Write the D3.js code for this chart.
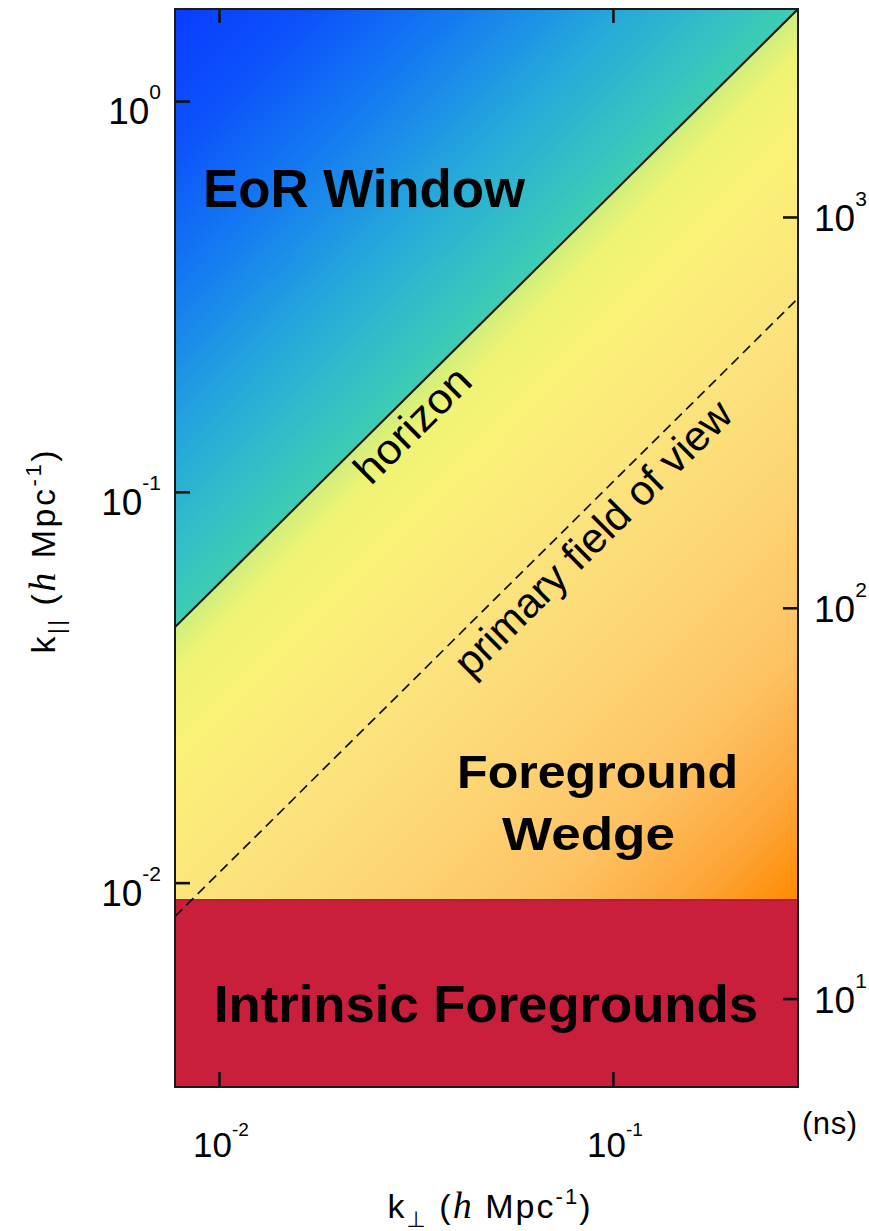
<!DOCTYPE html>
<html>
<head>
<meta charset="utf-8">
<script src="https://cdn.jsdelivr.net/npm/d3@7"></script>
<style>
  body { margin: 0; background: #fff; }
  svg { display: block; }
  text { font-family: "Liberation Sans", Arial, Helvetica, sans-serif; fill: #000; }
</style>
</head>
<body>
<svg id="chart" width="869" height="1231"></svg>
<script>
// ---- data -------------------------------------------------------------
// plotted ranges (h Mpc^-1)
const kPerpRange = [0.00773, 0.295];
const kParRange  = [0.0030, 1.72];
// decade ticks
const kPerpTicks = [0.01, 0.1];
const kParTicks  = [0.01, 0.1, 1];
const delayTicks = [10, 100, 1000];          // ns
// k_par / k_perp along the horizon limit and the primary-beam limit
const horizonSlope = 5.83;
const fovSlope     = 1.06;
// upper edge of the intrinsic (spectrally smooth) foreground band
const intrinsicTop = 0.00905;
// delay (ns) per unit k_par (h Mpc^-1)
const delayPerK = 1980;

// ---- layout -----------------------------------------------------------
const frame = { left: 175, right: 798, top: 9, bottom: 1087 };
const x = d3.scaleLog().domain(kPerpRange).range([frame.left, frame.right]);
const y = d3.scaleLog().domain(kParRange).range([frame.bottom, frame.top]);
const delay = d3.scaleLog()
  .domain(kParRange.map(k => k * delayPerK))
  .range([frame.bottom, frame.top]);

const svg = d3.select("#chart");
const defs = svg.append("defs");

defs.append("clipPath").attr("id", "plotClip")
  .append("rect")
  .attr("x", frame.left).attr("y", frame.top)
  .attr("width", frame.right - frame.left)
  .attr("height", frame.bottom - frame.top);

// horizon and field-of-view lines in pixel space
const horizonPts = kPerpRange.map(k => [x(k), y(k * horizonSlope)]);
const fovPts     = kPerpRange.map(k => [x(k), y(k * fovSlope)]);

const [p0, p1] = horizonPts;
const ux = p1[0] - p0[0], uy = p1[1] - p0[1], ul = Math.hypot(ux, uy);
const nx = -uy / ul, ny = ux / ul;               // unit normal pointing into the wedge
const dist = (px, py) => (px - p0[0]) * nx + (py - p0[1]) * ny;
const dCool = dist(frame.left, frame.top);        // far corner of the EoR window
const dWarm = dist(frame.right, y(intrinsicTop)); // far corner of the wedge

// colour ramps run perpendicular to the horizon
const coolStops = [
  [0.00, "#0a3cff"], [0.22, "#0c52fb"], [0.45, "#1479f2"],
  [0.70, "#24a6dc"], [0.88, "#33bfc6"], [1.00, "#3ecdb2"]
];
const warmStops = [
  [0.00, "#cfee7c"], [0.05, "#eef374"], [0.14, "#faf277"],
  [0.35, "#fce27c"], [0.55, "#fdd272"], [0.72, "#fdc262"],
  [0.87, "#fda73a"], [1.00, "#ff8a00"]
];

function addGradient(id, from, to, stops) {
  const g = defs.append("linearGradient").attr("id", id)
    .attr("gradientUnits", "userSpaceOnUse")
    .attr("x1", from[0]).attr("y1", from[1])
    .attr("x2", to[0]).attr("y2", to[1]);
  g.selectAll("stop").data(stops).join("stop")
    .attr("offset", d => d[0]).attr("stop-color", d => d[1]);
}
addGradient("coolRamp", [p0[0] + dCool * nx, p0[1] + dCool * ny], p0, coolStops);
addGradient("warmRamp", p0, [p0[0] + dWarm * nx, p0[1] + dWarm * ny], warmStops);

const plot = svg.append("g").attr("clip-path", "url(#plotClip)");

// foreground wedge (everything below the horizon)
plot.append("rect")
  .attr("x", frame.left).attr("y", frame.top)
  .attr("width", frame.right - frame.left)
  .attr("height", frame.bottom - frame.top)
  .attr("fill", "url(#warmRamp)");

// EoR window (above the horizon)
const windowPoly = [...horizonPts, [frame.right, frame.top], [frame.left, frame.top]];
plot.append("path")
  .attr("d", "M" + windowPoly.join("L") + "Z")
  .attr("fill", "url(#coolRamp)");

// intrinsic foreground band
const yBand = y(intrinsicTop);
plot.append("rect")
  .attr("x", frame.left).attr("y", yBand)
  .attr("width", frame.right - frame.left)
  .attr("height", frame.bottom - yBand)
  .attr("fill", "#c91f3d");
plot.append("line")
  .attr("x1", frame.left).attr("x2", frame.right)
  .attr("y1", yBand).attr("y2", yBand)
  .attr("stroke", "#5a1a14").attr("stroke-width", 1.2).attr("stroke-opacity", 0.7);

const line = d3.line();
plot.append("path").attr("d", line(fovPts))
  .attr("fill", "none").attr("stroke", "#111").attr("stroke-width", 1.7)
  .attr("stroke-dasharray", "10,6");
plot.append("path").attr("d", line(horizonPts))
  .attr("fill", "none").attr("stroke", "#111").attr("stroke-width", 2);

// ---- line labels ------------------------------------------------------
function lineLabel(text, slope, kPerp, offset, size, len) {
  const a = [x(kPerpRange[0]), y(kPerpRange[0] * slope)];
  const b = [x(kPerpRange[1]), y(kPerpRange[1] * slope)];
  const ang = Math.atan2(b[1] - a[1], b[0] - a[0]) * 180 / Math.PI;
  const px = x(kPerp), py = y(kPerp * slope);
  svg.append("text")
    .attr("transform", `translate(${px},${py}) rotate(${ang}) translate(0,${offset})`)
    .attr("text-anchor", "middle")
    .attr("font-size", size)
    .attr("textLength", len).attr("lengthAdjust", "spacingAndGlyphs")
    .text(text);
}
lineLabel("horizon", horizonSlope, 0.0281, 38, 42, 146);
lineLabel("primary field of view", fovSlope, 0.080, 40, 42, 372);

// ---- region labels ----------------------------------------------------
function regionLabel(text, kp, kq, anchor, size, len) {
  svg.append("text")
    .attr("x", x(kp)).attr("y", y(kq))
    .attr("text-anchor", anchor)
    .attr("font-size", size).attr("font-weight", "bold")
    .attr("textLength", len).attr("lengthAdjust", "spacingAndGlyphs")
    .text(text);
}
regionLabel("EoR Window", 0.00911, 0.536, "start", 53, 322);
regionLabel("Foreground", 0.0914, 0.0175, "middle", 46, 281);
regionLabel("Wedge", 0.0867, 0.01215, "middle", 46, 173);
regionLabel("Intrinsic Foregrounds", 0.0476, 0.00441, "middle", 52, 544);

// ---- axes (inward ticks, no labels from the generator) ---------------
function styleTicks(g) {
  g.select(".domain").remove();
  g.selectAll(".tick line").attr("stroke", "#111").attr("stroke-width", 2.6);
}
svg.append("g").attr("transform", `translate(${frame.left},0)`)
  .call(d3.axisLeft(y).tickValues(kParTicks).tickSize(-15).tickFormat(""))
  .call(styleTicks);
svg.append("g").attr("transform", `translate(${frame.right},0)`)
  .call(d3.axisRight(delay).tickValues(delayTicks).tickSize(-15).tickFormat(""))
  .call(styleTicks);
svg.append("g").attr("transform", `translate(0,${frame.bottom})`)
  .call(d3.axisBottom(x).tickValues(kPerpTicks).tickSize(-15).tickFormat(""))
  .call(styleTicks);
svg.append("g").attr("transform", `translate(0,${frame.top})`)
  .call(d3.axisTop(x).tickValues(kPerpTicks).tickSize(-14).tickFormat(""))
  .call(styleTicks);

// power-of-ten tick labels
function powLabel(g, px, py, value, anchor, size, supSize, supRise) {
  const e = Math.round(Math.log10(value));
  const t = g.append("text").attr("x", px).attr("y", py)
    .attr("text-anchor", anchor).attr("font-size", size);
  t.append("tspan").text("10");
  t.append("tspan").attr("font-size", supSize).attr("dy", -supRise).text(e);
}
const labels = svg.append("g");
kParTicks.forEach(v => powLabel(labels, 161, y(v) + 23, v, "end", 37, 21, 25));
delayTicks.forEach(v => powLabel(labels, 814, delay(v) + 14, v, "start", 37, 21, 25));
kPerpTicks.forEach(v => powLabel(labels, x(v) + 2, 1157, v, "middle", 35, 19, 21));

svg.append("text").attr("x", 802).attr("y", 1134)
  .attr("font-size", 31).attr("textLength", 55).text("(ns)");

// ---- axis titles ------------------------------------------------------
function axisTitle(g, sub, subFont) {
  const t = g.append("text").attr("text-anchor", "middle").attr("font-size", 34)
    .attr("textLength", 203).attr("lengthAdjust", "spacing");
  t.append("tspan").text("k");
  t.append("tspan").attr("font-size", 22).attr("dy", 9)
    .attr("font-family", subFont).text(sub);
  t.append("tspan").attr("dy", -9).text(" (");
  t.append("tspan").attr("font-family", "'Liberation Serif', 'Times New Roman', serif")
    .attr("font-style", "italic").attr("font-size", 38).text("h");
  t.append("tspan").text(" Mpc");
  t.append("tspan").attr("font-size", 22).attr("dy", -14).text("-1");
  t.append("tspan").attr("dy", 14).text(")");
}
axisTitle(svg.append("g").attr("transform", "translate(489,1218)"),
  "\u22A5", "'DejaVu Sans', sans-serif");
axisTitle(svg.append("g").attr("transform", "translate(55,552) rotate(-90)"),
  "||", "'Liberation Sans', sans-serif");

// ---- frame ------------------------------------------------------------
svg.append("rect")
  .attr("x", frame.left).attr("y", frame.top)
  .attr("width", frame.right - frame.left)
  .attr("height", frame.bottom - frame.top)
  .attr("fill", "none").attr("stroke", "#1a1a1a").attr("stroke-width", 2);
</script>
</body>
</html>
